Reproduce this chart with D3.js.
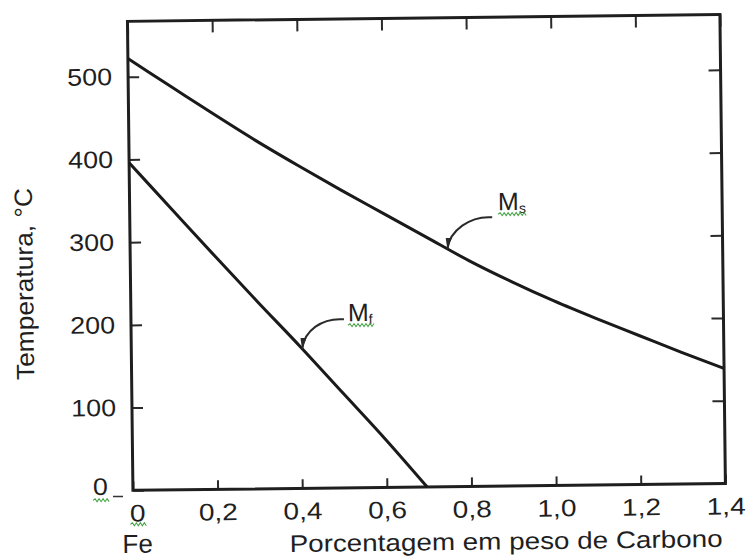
<!DOCTYPE html>
<html>
<head>
<meta charset="utf-8">
<script src="https://cdn.jsdelivr.net/npm/d3@7/dist/d3.min.js"></script>
<style>
  body { margin: 0; background: #fff; }
  text { font-family: "Liberation Sans", Arial, sans-serif; fill: #1f1f1f; }
</style>
</head>
<body>
<svg id="chart" width="748" height="560"></svg>
<script>
// values (wt% C vs temperature in C)
const carbon = [0, 0.1, 0.2, 0.3, 0.4, 0.5, 0.6, 0.7, 0.8, 0.9, 1.0, 1.1, 1.2, 1.3, 1.4];
const msTemp = [522, 488, 454, 421, 390, 360, 331, 302, 273, 247, 223, 201, 180, 159, 139];
const mfCarbon = [0, 0.1, 0.2, 0.3, 0.4, 0.5, 0.6, 0.695];
const mfTemp = [396, 339, 282, 226, 171, 114, 57, 0];

const xTicks = [0, 0.2, 0.4, 0.6, 0.8, 1.0, 1.2, 1.4];
const xTickLabels = ['0', '0,2', '0,4', '0,6', '0,8', '1,0', '1,2', '1,4'];
const yTicks = [0, 100, 200, 300, 400, 500];

const svg = d3.select('#chart');
// the scanned figure is tilted a little, so the whole drawing is too
const g = svg.append('g').attr('transform', 'rotate(-0.67,374,280)');

const x = d3.scaleLinear().domain([0, 1.4]).range([130.5, 723]);
const y = d3.scaleLinear().domain([0, 567]).range([487.5, 18.5]);

// stretch text a bit, the original lettering is wider than Arial
function widen(sel, k) {
    sel.each(function() {
        const w = this.getComputedTextLength();
        d3.select(this).attr('textLength', w * k).attr('lengthAdjust', 'spacingAndGlyphs');
    });
}

function squiggle(x0, x1, yy) {
    let p = 'M' + x0 + ',' + yy;
    let up = true;
    for (let xx = x0 + 2; xx <= x1; xx += 2) {
        p += 'L' + xx + ',' + (yy + (up ? -1.5 : 1.5));
        up = !up;
    }
    g.append('path').attr('d', p).attr('fill', 'none')
        .attr('stroke', '#3f9f3f').attr('stroke-width', 1);
}

// axes (ticks point inward on all four sides)
const xAxis = g.append('g').attr('transform', 'translate(0,' + y(0) + ')')
    .call(d3.axisBottom(x).tickValues(xTicks).tickSize(-9).tickPadding(14)
        .tickFormat((d, i) => xTickLabels[i]));
const yAxis = g.append('g').attr('transform', 'translate(' + x(0) + ',0)')
    .call(d3.axisLeft(y).tickValues(yTicks).tickSize(-11).tickPadding(16));
g.append('g').attr('transform', 'translate(0,' + y(567) + ')')
    .call(d3.axisTop(x).tickValues(xTicks).tickSize(-12).tickFormat(''));
g.append('g').attr('transform', 'translate(' + x(1.4) + ',0)')
    .call(d3.axisRight(y).tickValues(yTicks).tickSize(-12).tickFormat(''));

g.selectAll('.domain').remove();
g.selectAll('.tick line').attr('stroke', '#2a2a2a').attr('stroke-width', 2);
g.selectAll('.tick text').attr('font-size', 24).attr('fill', '#1f1f1f')
    .attr('font-family', '"Liberation Sans", Arial, sans-serif');
widen(xAxis.selectAll('.tick text'), 1.17);
widen(yAxis.selectAll('.tick text'), 1.12);
xAxis.selectAll('.tick text').filter(d => d === 0).attr('dx', 4);

// the "0" on the temperature axis sits a bit apart, with a small dash
const zeroLabel = yAxis.selectAll('.tick text').filter(d => d === 0)
    .attr('dx', -9).attr('dy', '0.15em');
g.append('line')
    .attr('x1', x(0) - 20).attr('x2', x(0) - 10)
    .attr('y1', y(0) + 6).attr('y2', y(0) + 6)
    .attr('stroke', '#333').attr('stroke-width', 1.5);

// frame
g.append('rect')
    .attr('x', x(0)).attr('y', y(567))
    .attr('width', x(1.4) - x(0)).attr('height', y(0) - y(567))
    .attr('fill', 'none').attr('stroke', '#1f1f1f').attr('stroke-width', 3);

// curves
const msData = carbon.map((c, i) => [c, msTemp[i]]);
const mfData = mfCarbon.map((c, i) => [c, mfTemp[i]]);
const line = d3.line().x(d => x(d[0])).y(d => y(d[1])).curve(d3.curveMonotoneX);

g.append('path').datum(msData).attr('d', line)
    .attr('fill', 'none').attr('stroke', '#1a1a1a').attr('stroke-width', 3);
g.append('path').datum(mfData).attr('d', line)
    .attr('fill', 'none').attr('stroke', '#1a1a1a').attr('stroke-width', 3);

// labels with curved arrows pointing on the curves
svg.append('defs').append('marker')
    .attr('id', 'head').attr('viewBox', '0 -4 12 8')
    .attr('refX', 11).attr('refY', 0)
    .attr('markerWidth', 12).attr('markerHeight', 8)
    .attr('markerUnits', 'userSpaceOnUse').attr('orient', 'auto')
    .append('path').attr('d', 'M0,-3L12,0L0,3Z').attr('fill', '#2a2a2a');

const msAt = d3.scaleLinear().domain(carbon).range(msTemp);
const mfAt = d3.scaleLinear().domain(mfCarbon).range(mfTemp);
const notes = [
    {main: 'M', sub: 's', cx: 0.75, at: msAt, lx: 51, ly: -38, ax: 45, ay: -31},
    {main: 'M', sub: 'f', cx: 0.404, at: mfAt, lx: 46, ly: -27, ax: 42, ay: -29}
];

notes.forEach(n => {
    const tx = x(n.cx), ty = y(n.at(n.cx));
    const sx = tx + n.ax, sy = ty + n.ay;
    g.append('path')
        .attr('d', 'M' + sx + ',' + sy + 'C' + (sx - 22) + ',' + (sy - 2) + ' ' + (tx + 2) + ',' + (ty - 18) + ' ' + tx + ',' + ty)
        .attr('fill', 'none').attr('stroke', '#2a2a2a').attr('stroke-width', 2)
        .attr('marker-end', 'url(#head)');
    const t = g.append('text').attr('x', tx + n.lx).attr('y', ty + n.ly).attr('font-size', 25);
    t.append('tspan').text(n.main);
    t.append('tspan').text(n.sub).attr('font-size', 14).attr('dy', 3);
    const b = t.node().getBBox();
    squiggle(b.x, b.x + b.width + 2, ty + n.ly + 4);
});

// spell-check marks under the zeros, as in the source
const zb = zeroLabel.node().getBBox();
const zt = d3.select(zeroLabel.node().parentNode).attr('transform');
const zy = +zt.match(/,([\d.]+)\)/)[1];
squiggle(x(0) - 16 - 9 - zb.width, x(0) - 16 - 9 + 2, zy + 9);
squiggle(x(0) - 3, x(0) + 14, y(0) + 34);

// axis titles
g.append('text').attr('x', x(0) + 4).attr('y', 550)
    .attr('text-anchor', 'middle').attr('font-size', 26).text('Fe');
g.append('text').attr('x', 503).attr('y', 551)
    .attr('text-anchor', 'middle').attr('font-size', 24)
    .attr('textLength', 433).attr('lengthAdjust', 'spacingAndGlyphs')
    .text('Porcentagem em peso de Carbono');
g.append('text').attr('transform', 'translate(33,280) rotate(-90)')
    .attr('text-anchor', 'middle').attr('font-size', 25)
    .attr('textLength', 192).attr('lengthAdjust', 'spacingAndGlyphs')
    .text('Temperatura, \u00B0C');
</script>
</body>
</html>
